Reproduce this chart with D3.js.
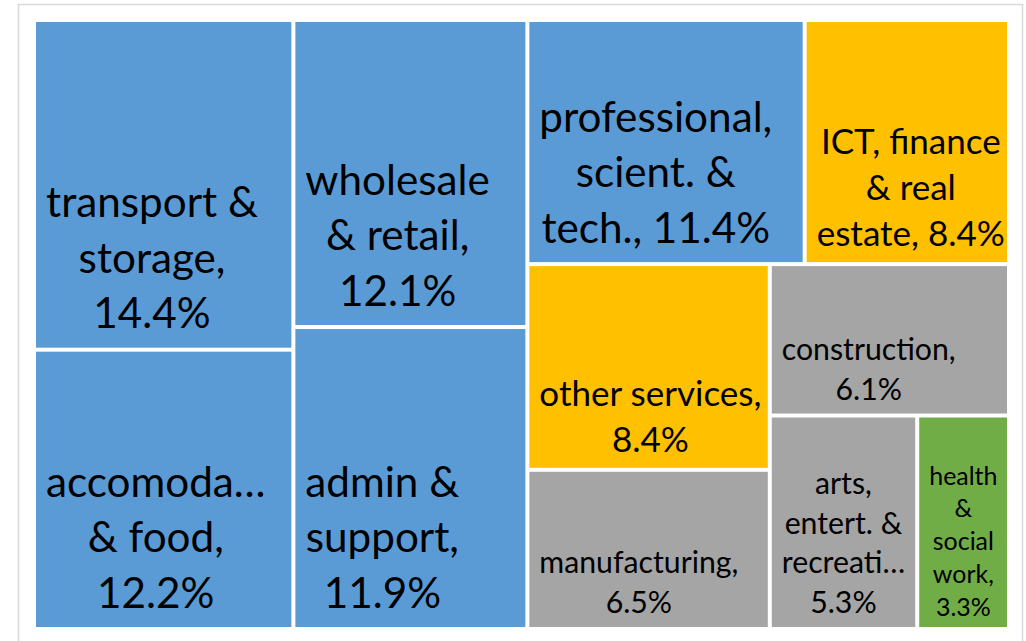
<!DOCTYPE html>
<html>
<head>
<meta charset="utf-8">
<script src="https://cdn.jsdelivr.net/npm/d3@7"></script>
<style>
  html, body { margin: 0; padding: 0; background: #fff; }
  svg { display: block; }
</style>
</head>
<body>
<div id="chart"></div>
<script>
// share of employment by sector (percent)
const categories = [
    "transport & storage",
    "accomodation & food",
    "wholesale & retail",
    "admin & support",
    "professional, scient. & tech.",
    "ICT, finance & real estate",
    "other services",
    "manufacturing",
    "construction",
    "arts, entert. & recreation",
    "health & social work"
];
const values = [14.4, 12.2, 12.1, 11.9, 11.4, 8.4, 8.4, 6.5, 6.1, 5.3, 3.3];
const groups = ["A", "A", "A", "A", "A", "B", "B", "C", "C", "C", "D"];
// labels as wrapped in the picture
const labelLines = [
    ["transport &", "storage,", "14.4%"],
    ["accomoda\u2026", "& food,", "12.2%"],
    ["wholesale", "& retail,", "12.1%"],
    ["admin &", "support,", "11.9%"],
    ["professional,", "scient. &", "tech., 11.4%"],
    ["ICT, finance", "& real", "estate, 8.4%"],
    ["other services,", "8.4%"],
    ["manufacturing,", "6.5%"],
    ["construction,", "6.1%"],
    ["arts,", "entert. &", "recreati\u2026", "5.3%"],
    ["health", "&", "social", "work,", "3.3%"]
];

const W = 1026, H = 641;
const plot = {x: 34, y: 20, w: 975, h: 609};
const gap = 2;
const color = d3.scaleOrdinal()
    .domain(["A", "B", "C", "D"])
    .range(["#5B9BD5", "#FFC000", "#A5A5A5", "#70AD47"]);

// label sizes per cell (px), the font is a bit wider than the original one
const fontScale = 0.96;
const labelSize = d => d.value >= 11 ? 44 : d.value >= 7 ? 36.5 : d.value >= 5 ? 31.5 : 26;

const rows = categories.map((c, i) => ({name: c, value: values[i], group: groups[i], lines: labelLines[i]}));

const root = d3.hierarchy({children: rows})
    .sum(d => d.value || 0)
    .sort((a, b) => b.value - a.value);

d3.treemap()
    .tile(d3.treemapSquarify.ratio(1))
    .size([plot.w, plot.h])(root);

const svg = d3.select("#chart").append("svg")
    .attr("width", W)
    .attr("height", H);

// chart frame
svg.append("rect")
    .attr("x", 18.5).attr("y", 4.5)
    .attr("width", 1004).attr("height", 680)
    .attr("fill", "#fff")
    .attr("stroke", "#d9d9d9")
    .attr("stroke-width", 1.5);

const g = svg.append("g")
    .attr("transform", "translate(" + plot.x + "," + plot.y + ")");

const cell = g.selectAll(".cell")
    .data(root.leaves())
    .join("g")
    .attr("class", "cell");

cell.append("rect")
    .attr("x", d => d.x0 + gap)
    .attr("y", d => d.y0 + gap)
    .attr("width", d => d.x1 - d.x0 - 2 * gap)
    .attr("height", d => d.y1 - d.y0 - 2 * gap)
    .attr("fill", d => color(d.data.group));

cell.each(function(d){
    const fs = labelSize(d);
    const lh = fs * 1.26;
    const lines = d.data.lines;
    const t = d3.select(this).append("text")
        .attr("font-family", "Lato, 'Open Sans', sans-serif")
        .attr("font-size", fs * fontScale)
        .attr("fill", "#000")
        .attr("text-anchor", "middle");
    const lastBase = d.y1 - gap - fs * 0.44;
    const spans = t.selectAll("tspan")
        .data(lines)
        .join("tspan")
        .attr("y", (l, i) => lastBase - (lines.length - 1 - i) * lh)
        .text(l => l);
    // block is left aligned in the cell, lines centred inside it
    let maxW = 0;
    spans.each(function(){ maxW = Math.max(maxW, this.getComputedTextLength()); });
    spans.attr("x", d.x0 + gap + 10 + maxW / 2);
});
</script>
</body>
</html>
